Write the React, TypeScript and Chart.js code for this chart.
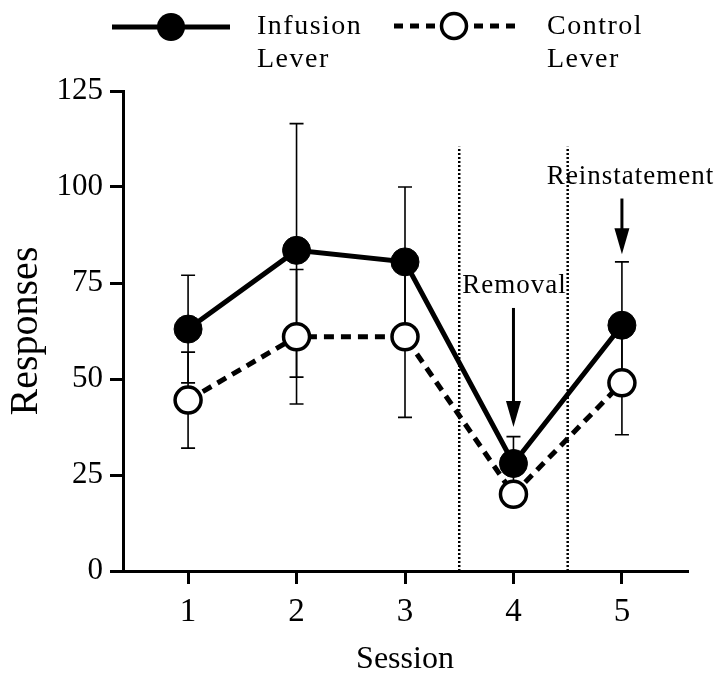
import React, { useEffect, useRef } from "react";
import { Chart, registerables } from "chart.js";

Chart.register(...registerables);

// ---- data ----
const sessions = [1, 2, 3, 4, 5];
const infusionMeans = [63, 83.5, 80.5, 28, 64];
const infusionErr = [14, 33, 19.5, 7, 16.5];
const controlMeans = [44.5, 61, 61, 20, 49];
const controlErr = [12.5, 17.5, 21, 3, 13.5];
const yTicks = [0, 25, 50, 75, 100, 125];
const phaseBoundaries = [3.5, 4.5];
const phaseLineTop = 110.5;
const annotationLabels = ["Removal", "Reinstatement"];
const annotationSessions = [4, 5];
const arrowFrom = [68.5, 97];
const arrowTo = [37.5, 82.5];
const labelX = [4.01, 5.08];
const labelY = [74.3, 102.5];
const legendLabels = [["Infusion", "Lever"], ["Control", "Lever"]];

const SERIF = "'Liberation Serif', 'DejaVu Serif', serif";

const errorBarPlugin = {
  id: "errorBars",
  beforeDatasetsDraw(chart: any) {
    const { ctx, scales } = chart;
    const xs = scales.x;
    const ys = scales.y;
    ctx.save();
    // phase boundary dotted lines
    ctx.strokeStyle = "#000";
    ctx.lineWidth = 2.5;
    ctx.setLineDash([2, 2]);
    phaseBoundaries.forEach((b) => {
      const px = xs.getPixelForValue(b);
      ctx.beginPath();
      ctx.moveTo(px, ys.getPixelForValue(0));
      ctx.lineTo(px, ys.getPixelForValue(phaseLineTop));
      ctx.stroke();
    });
    ctx.setLineDash([]);
    // error bars
    const series = [
      [infusionMeans, infusionErr],
      [controlMeans, controlErr],
    ];
    ctx.lineWidth = 1.6;
    series.forEach(([means, errs]) => {
      sessions.forEach((s, i) => {
        const px = xs.getPixelForValue(s);
        const top = ys.getPixelForValue(means[i] + errs[i]);
        const bot = ys.getPixelForValue(means[i] - errs[i]);
        ctx.beginPath();
        ctx.moveTo(px, top);
        ctx.lineTo(px, bot);
        ctx.moveTo(px - 7, top);
        ctx.lineTo(px + 7, top);
        ctx.moveTo(px - 7, bot);
        ctx.lineTo(px + 7, bot);
        ctx.stroke();
      });
    });
    ctx.restore();
  },
  afterDatasetsDraw(chart: any) {
    const { ctx, scales } = chart;
    const xs = scales.x;
    const ys = scales.y;
    ctx.save();
    ctx.fillStyle = "#000";
    ctx.strokeStyle = "#000";
    annotationLabels.forEach((label, i) => {
      const px = xs.getPixelForValue(annotationSessions[i]);
      const y0 = ys.getPixelForValue(arrowFrom[i]);
      const y1 = ys.getPixelForValue(arrowTo[i]);
      const headLen = 26;
      const headHalf = 7.5;
      ctx.lineWidth = 3;
      ctx.beginPath();
      ctx.moveTo(px, y0);
      ctx.lineTo(px, y1 - headLen + 2);
      ctx.stroke();
      ctx.beginPath();
      ctx.moveTo(px - headHalf, y1 - headLen);
      ctx.lineTo(px + headHalf, y1 - headLen);
      ctx.lineTo(px, y1);
      ctx.closePath();
      ctx.fill();
      ctx.font = `27px ${SERIF}`;
      (ctx as any).letterSpacing = "1px";
      ctx.textAlign = "center";
      ctx.textBaseline = "middle";
      ctx.fillText(label, xs.getPixelForValue(labelX[i]), ys.getPixelForValue(labelY[i]));
    });
    ctx.restore();
  },
  afterDraw(chart: any) {
    const { ctx } = chart;
    ctx.save();
    ctx.strokeStyle = "#000";
    ctx.fillStyle = "#000";
    // Infusion legend
    ctx.lineWidth = 5;
    ctx.beginPath();
    ctx.moveTo(112, 27);
    ctx.lineTo(230, 27);
    ctx.stroke();
    ctx.beginPath();
    ctx.arc(171, 27, 14, 0, Math.PI * 2);
    ctx.fill();
    // Control legend
    ctx.setLineDash([9, 7]);
    ctx.beginPath();
    ctx.moveTo(394, 26);
    ctx.lineTo(515, 26);
    ctx.stroke();
    ctx.setLineDash([]);
    ctx.beginPath();
    ctx.arc(454, 26, 12.5, 0, Math.PI * 2);
    ctx.fillStyle = "#fff";
    ctx.fill();
    ctx.lineWidth = 3.5;
    ctx.stroke();
    ctx.fillStyle = "#000";
    ctx.font = `28px ${SERIF}`;
    (ctx as any).letterSpacing = "1.5px";
    ctx.textAlign = "left";
    ctx.textBaseline = "alphabetic";
    const xs = [257, 547];
    legendLabels.forEach((lines, i) => {
      ctx.fillText(lines[0], xs[i], 34);
      ctx.fillText(lines[1], xs[i], 67);
    });
    ctx.restore();
  },
};

export default function App() {
  const ref = useRef<HTMLCanvasElement>(null);
  useEffect(() => {
    document.body.style.margin = "0";
    const canvas = ref.current!;
    const chart = new Chart(canvas, {
      type: "line",
      data: {
        datasets: [
          {
            label: "Infusion Lever",
            data: sessions.map((s, i) => ({ x: s, y: infusionMeans[i] })),
            borderColor: "#000",
            backgroundColor: "#000",
            borderWidth: 5,
            pointRadius: 14,
            pointBackgroundColor: "#000",
            pointBorderColor: "#000",
            pointBorderWidth: 1,
          },
          {
            label: "Control Lever",
            data: sessions.map((s, i) => ({ x: s, y: controlMeans[i] })),
            borderColor: "#000",
            backgroundColor: "#fff",
            borderWidth: 5,
            borderDash: [10, 7],
            pointRadius: 13,
            pointBackgroundColor: "#fff",
            pointBorderColor: "#000",
            pointBorderWidth: 3.5,
          },
        ],
      },
      options: {
        responsive: false,
        animation: false,
        events: [],
        layout: { padding: { top: 91, right: 33, left: 0, bottom: 0 } },
        plugins: {
          legend: { display: false },
          tooltip: { enabled: false },
        },
        scales: {
          x: {
            type: "linear",
            min: 0.4,
            max: 5.6,
            afterBuildTicks: (s: any) => {
              s.ticks = sessions.map((v) => ({ value: v }));
            },
            afterFit: (s: any) => {
              s.height = 108;
            },
            grid: {
              drawOnChartArea: false,
              drawTicks: true,
              tickLength: 13,
              color: "#000",
              lineWidth: 3,
            },
            border: { display: true, color: "#000", width: 3 },
            ticks: {
              color: "#000",
              padding: 9,
              font: { family: SERIF, size: 33 },
              callback: (v: any) => String(v),
            },
            title: {
              display: true,
              text: "Session",
              color: "#000",
              font: { family: SERIF, size: 32 },
              padding: { top: 0, bottom: 0 },
            },
          },
          y: {
            type: "linear",
            min: 0,
            max: 125,
            afterBuildTicks: (s: any) => {
              s.ticks = yTicks.map((v) => ({ value: v }));
            },
            afterFit: (s: any) => {
              s.width = 123;
            },
            grid: {
              drawOnChartArea: false,
              drawTicks: true,
              tickLength: 13,
              color: "#000",
              lineWidth: 3,
            },
            border: { display: true, color: "#000", width: 3 },
            ticks: {
              color: "#000",
              padding: 7,
              font: { family: SERIF, size: 31 },
              callback: (v: any) => String(v),
            },
            title: {
              display: true,
              text: "Responses",
              color: "#000",
              font: { family: SERIF, size: 40 },
              padding: { top: 2, bottom: 0 },
            },
          },
        },
      },
      plugins: [errorBarPlugin],
    } as any);
    return () => chart.destroy();
  }, []);
  return <canvas ref={ref} width={720} height={679} style={{ display: "block" }} />;
}
